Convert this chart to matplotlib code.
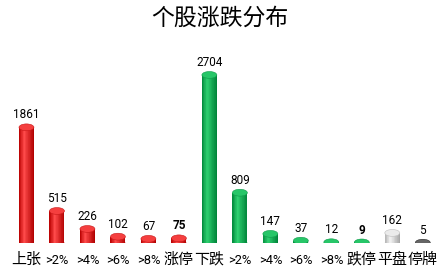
import matplotlib
matplotlib.use("Agg")
import matplotlib.pyplot as plt
from matplotlib.patches import Ellipse
import numpy as np

plt.rcParams['font.family'] = ['Noto Sans CJK SC', 'DejaVu Sans']

categories = ["上张", ">2%", ">4%", ">6%", ">8%", "涨停", "下跌", ">2%", ">4%", ">6%", ">8%", "跌停", "平盘", "停牌"]
values = [1861, 515, 226, 102, 67, 75, 2704, 809, 147, 37, 12, 9, 162, 5]
groups = ["up"] * 6 + ["down"] * 6 + ["flat", "halt"]
bold_labels = ["涨停", "跌停"]

palettes = {
    "up": ("#8B0000", "#FF4A4A", "#E60000"),
    "down": ("#006A2E", "#2ED070", "#00A848"),
    "flat": ("#8C8C8C", "#F6F6F6", "#CCCCCC"),
    "halt": ("#101010", "#707070", "#303030"),
}

fig = plt.figure(figsize=(4.4, 2.75), dpi=100)
ax = fig.add_axes([0.0255, 0.1164, 0.970, 0.678])
ax.set_xlim(-0.5, len(categories) - 0.5)
ax.set_ylim(0, 3000)

width = 0.49
nstrip = 24
cap_h = 110
x = np.arange(len(categories))


def shade(pal, t):
    dark, light, mid = [np.array(matplotlib.colors.to_rgb(c)) for c in pal]
    if t < 0.35:
        f = t / 0.35
        return dark * (1 - f) * 0.5 + mid * (1 - f) * 0.5 + light * f
    f = (t - 0.35) / 0.65
    return light * (1 - f) + (dark * 0.6 + mid * 0.4) * f


for i, (v, g) in enumerate(zip(values, groups)):
    pal = palettes[g]
    sw = width / nstrip
    for k in range(nstrip):
        t = (k + 0.5) / nstrip
        ax.bar(x[i] - width / 2 + (k + 0.5) * sw, v, width=sw * 1.05,
               color=shade(pal, t), linewidth=0, zorder=2)
    ax.add_patch(Ellipse((x[i], 0), width, cap_h, facecolor=shade(pal, 0.55),
                         edgecolor='none', zorder=1.9))
    ax.add_patch(Ellipse((x[i], v), width, cap_h, facecolor=shade(pal, 0.3),
                         edgecolor=shade(pal, 0.8), linewidth=0.4, zorder=3))
    weight = 'bold' if categories[i] in bold_labels else 'normal'
    ax.text(x[i], v + 95, str(v), ha='center', va='bottom', fontsize=8.5,
            color='#000000', fontweight=weight, family=['Roboto', 'DejaVu Sans'], zorder=4)

ax.set_xticks(x)
ax.set_xticklabels(categories)
for lbl, cat in zip(ax.get_xticklabels(), categories):
    lbl.set_va('baseline')
    if cat.isascii():
        lbl.set_fontsize(9.3)
        lbl.set_family(['Roboto', 'DejaVu Sans'])
    else:
        lbl.set_fontsize(10.8)
        lbl.set_family(['Noto Sans CJK SC', 'DejaVu Sans'])
ax.tick_params(axis='x', length=0, pad=15)
ax.set_yticks([])
for s in ax.spines.values():
    s.set_visible(False)

fig.text(0.5, 0.932, "个股涨跌分布", ha='center', va='center', fontsize=16.5,
         color='#000000')

fig.savefig("out.png", dpi=100, facecolor='white')
